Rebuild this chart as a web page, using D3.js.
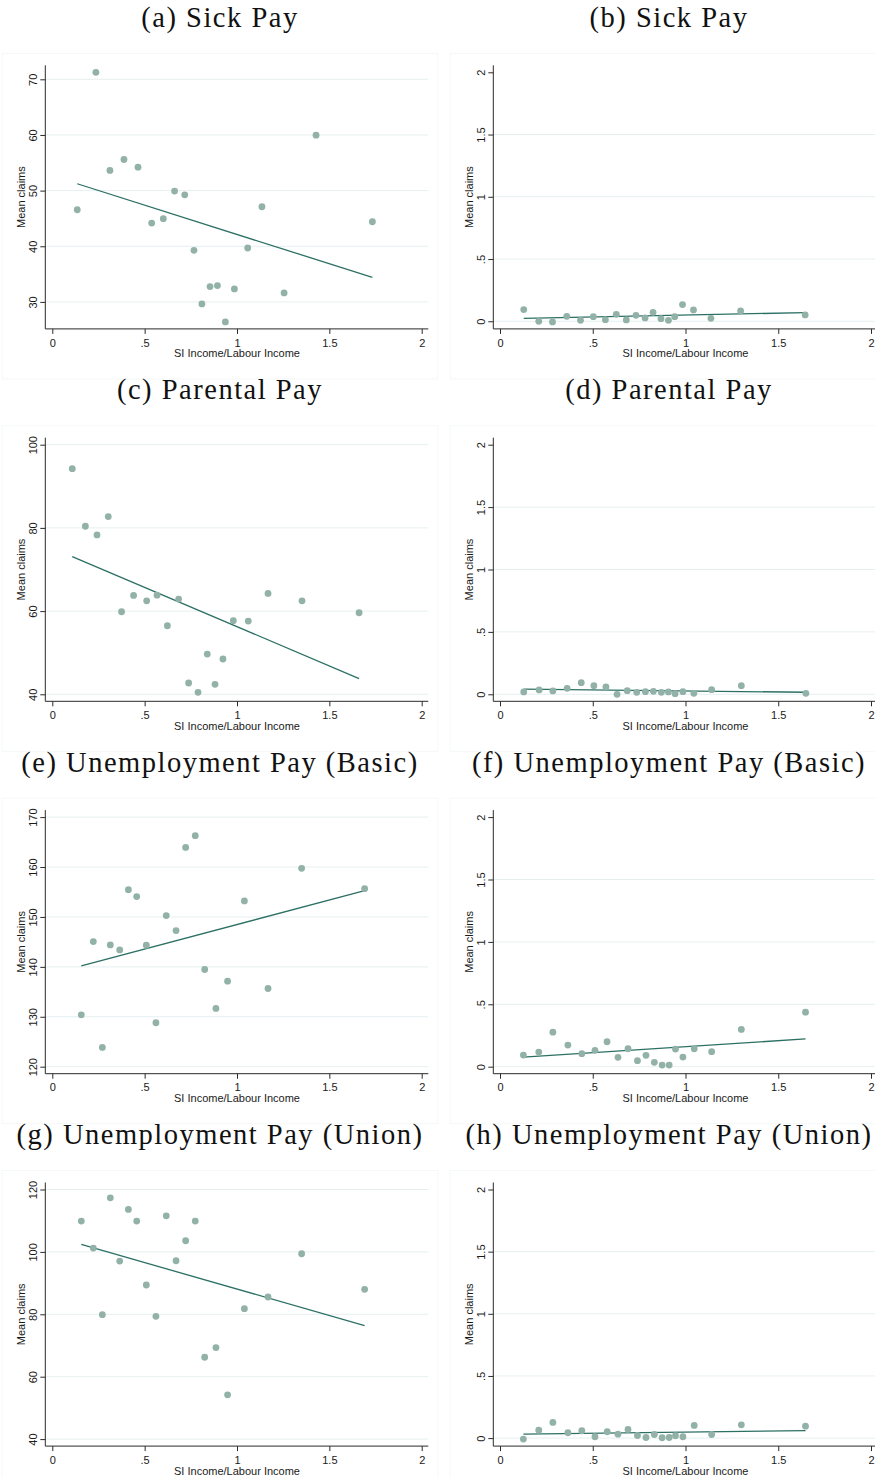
<!DOCTYPE html>
<html>
<head>
<meta charset="utf-8">
<script src="https://cdn.jsdelivr.net/npm/d3@7"></script>
<style>
  html, body { margin: 0; padding: 0; background: #ffffff; }
  svg { display: block; }
</style>
</head>
<body>
<svg id="chart" width="875" height="1478"></svg>
<script>
// ---- Data: mean claims against SI income / labour income ----
const xTicks = [0, 0.5, 1, 1.5, 2];

// (a) Sick Pay
const sickAX = [0.135, 0.236, 0.312, 0.388, 0.464, 0.538, 0.601, 0.662, 0.717, 0.767, 0.810, 0.854, 0.894, 0.937, 0.986, 1.058, 1.135, 1.255, 1.428, 1.733];
const sickAY = [46.56, 71.26, 53.62, 55.59, 54.22, 44.17, 44.95, 49.91, 49.25, 39.27, 29.64, 32.75, 32.93, 26.41, 32.33, 39.69, 47.10, 31.61, 59.96, 44.41];
const sickATicks = [30, 40, 50, 60, 70];

// (b) Sick Pay
const sickBX = [0.128, 0.209, 0.283, 0.360, 0.434, 0.503, 0.568, 0.627, 0.681, 0.733, 0.782, 0.825, 0.868, 0.908, 0.942, 0.984, 1.043, 1.137, 1.297, 1.645];
const sickBY = [0.094, 0.000, -0.005, 0.040, 0.008, 0.037, 0.013, 0.056, 0.011, 0.048, 0.027, 0.072, 0.021, 0.008, 0.037, 0.134, 0.091, 0.024, 0.083, 0.051];

// (c) Parental Pay
const parCX = [0.108, 0.179, 0.242, 0.303, 0.375, 0.440, 0.511, 0.567, 0.623, 0.684, 0.738, 0.789, 0.839, 0.881, 0.924, 0.980, 1.061, 1.168, 1.352, 1.661];
const parCY = [94.24, 80.40, 78.32, 82.72, 59.84, 63.76, 62.48, 63.84, 56.48, 62.88, 42.72, 40.48, 49.68, 42.40, 48.48, 57.68, 57.60, 64.24, 62.48, 59.60];
const parCTicks = [40, 60, 80, 100];

// (d) Parental Pay
const parDX = [0.128, 0.211, 0.285, 0.362, 0.438, 0.506, 0.571, 0.631, 0.686, 0.737, 0.784, 0.827, 0.870, 0.908, 0.944, 0.986, 1.045, 1.141, 1.301, 1.649];
const parDY = [0.019, 0.035, 0.027, 0.048, 0.093, 0.069, 0.059, 0.000, 0.029, 0.016, 0.021, 0.024, 0.016, 0.019, 0.005, 0.021, 0.008, 0.037, 0.069, 0.008];

// (e) Unemployment Pay (Basic)
const basicEX = [0.157, 0.222, 0.271, 0.314, 0.365, 0.412, 0.457, 0.509, 0.561, 0.617, 0.670, 0.722, 0.774, 0.825, 0.886, 0.949, 1.040, 1.168, 1.350, 1.691];
const basicEY = [130.40, 145.07, 123.87, 144.40, 143.40, 155.47, 154.07, 144.33, 128.80, 150.27, 147.27, 163.93, 166.27, 139.47, 131.67, 137.13, 153.20, 135.67, 159.73, 155.67];
const basicETicks = [120, 130, 140, 150, 160, 170];

// (f) Unemployment Pay (Basic)
const basicFX = [0.126, 0.209, 0.285, 0.366, 0.441, 0.512, 0.577, 0.636, 0.690, 0.741, 0.787, 0.832, 0.874, 0.912, 0.946, 0.986, 1.047, 1.141, 1.301, 1.647];
const basicFY = [0.093, 0.117, 0.277, 0.173, 0.104, 0.131, 0.200, 0.075, 0.144, 0.048, 0.091, 0.035, 0.013, 0.013, 0.141, 0.077, 0.144, 0.120, 0.299, 0.437];

// (g) Unemployment Pay (Union)
const unionGX = [0.157, 0.222, 0.271, 0.314, 0.365, 0.412, 0.457, 0.509, 0.561, 0.617, 0.670, 0.722, 0.774, 0.825, 0.886, 0.949, 1.040, 1.168, 1.350, 1.691];
const unionGY = [109.87, 101.23, 79.89, 117.33, 97.07, 113.60, 109.87, 89.39, 79.36, 111.57, 97.17, 103.57, 109.87, 66.24, 69.33, 54.19, 81.81, 85.55, 99.41, 88.00];
const unionGTicks = [40, 60, 80, 100, 120];

// (h) Unemployment Pay (Union)
const unionHX = [0.126, 0.209, 0.285, 0.366, 0.441, 0.512, 0.578, 0.636, 0.690, 0.741, 0.787, 0.832, 0.874, 0.912, 0.946, 0.986, 1.047, 1.141, 1.301, 1.647];
const unionHY = [-0.008, 0.064, 0.126, 0.043, 0.059, 0.011, 0.051, 0.032, 0.070, 0.021, 0.005, 0.029, 0.003, 0.005, 0.019, 0.011, 0.102, 0.029, 0.107, 0.096];

const rightTicks = [0, 0.5, 1, 1.5, 2];

const panelTitles = [
  "(a) Sick Pay", "(b) Sick Pay",
  "(c) Parental Pay", "(d) Parental Pay",
  "(e) Unemployment Pay (Basic)", "(f) Unemployment Pay (Basic)",
  "(g) Unemployment Pay (Union)", "(h) Unemployment Pay (Union)"
];

const panels = [
  { x: sickAX, y: sickAY, ticks: sickATicks },
  { x: sickBX, y: sickBY, ticks: rightTicks, noTopGrid: true },
  { x: parCX, y: parCY, ticks: parCTicks },
  { x: parDX, y: parDY, ticks: rightTicks, noTopGrid: true },
  { x: basicEX, y: basicEY, ticks: basicETicks },
  { x: basicFX, y: basicFY, ticks: rightTicks, noTopGrid: true },
  { x: unionGX, y: unionGY, ticks: unionGTicks },
  { x: unionHX, y: unionHY, ticks: rightTicks, noTopGrid: true }
];

// ---- Layout ----
const svg = d3.select("#chart");
const rowStep = 372.4;
const innerTop0 = 72.3, innerH = 249.6, pad = 7;
const cols = [
  { axisX: 45.3, x0: 52.3, x1: 421.7, right: 428.3, bgX: 2, bgW: 436, titleX: 220 },
  { axisX: 493.3, x0: 500, x1: 871, right: 878, bgX: 450, bgW: 430, titleX: 669 }
];

const markerColor = "#92b2a8";
const lineColor = "#2c7064";
const gridColor = "#e6eff0";
const axisColor = "#2a2a2a";

const fmt = d => d === 0 ? "0" : String(d).replace(/^0\./, ".").replace(/^-0\./, "-.");

function olsFit(xs, ys) {
  const mx = d3.mean(xs), my = d3.mean(ys);
  let sxy = 0, sxx = 0;
  xs.forEach((v, i) => { sxy += (v - mx) * (ys[i] - my); sxx += (v - mx) * (v - mx); });
  const b = sxy / sxx;
  return x => my + b * (x - mx);
}

panels.forEach((p, i) => {
  const col = cols[i % 2];
  const row = Math.floor(i / 2);
  const top = innerTop0 + row * rowStep;
  const bottom = top + innerH;
  const axisY = bottom + pad;

  const g = svg.append("g");

  // graph region (very faint frame)
  g.append("rect")
    .attr("x", col.bgX).attr("y", top - 19)
    .attr("width", col.bgW).attr("height", innerH + 76)
    .attr("fill", "#ffffff").attr("stroke", "#f5f8f8").attr("stroke-width", 1);

  const xScale = d3.scaleLinear().domain([0, 2]).range([col.x0, col.x1]);
  const yDom = d3.extent(p.y.concat(p.ticks));
  const yScale = d3.scaleLinear().domain(yDom).range([bottom, top]);

  // gridlines
  const gridTicks = p.noTopGrid ? p.ticks.slice(0, -1) : p.ticks;
  g.append("g").selectAll("line").data(gridTicks).join("line")
    .attr("x1", col.axisX).attr("x2", col.right)
    .attr("y1", d => yScale(d)).attr("y2", d => yScale(d))
    .attr("stroke", gridColor).attr("stroke-width", 1);

  // y axis
  const yAxis = d3.axisLeft(yScale).tickValues(p.ticks).tickFormat(fmt).tickSize(5).tickSizeOuter(0);
  const ya = g.append("g").attr("transform", `translate(${col.axisX},0)`).call(yAxis);
  ya.select(".domain").attr("d", `M0,${top - pad}V${axisY}`).attr("stroke", axisColor);
  ya.selectAll(".tick line").attr("stroke", axisColor);
  ya.selectAll(".tick text")
    .attr("transform", "rotate(-90)")
    .attr("x", 0).attr("y", 0).attr("dy", "-8.5px")
    .attr("text-anchor", "middle")
    .attr("font-family", "'Liberation Sans', Arial, sans-serif")
    .attr("font-size", 11).attr("fill", "#1a1a1a");

  // x axis
  const xAxis = d3.axisBottom(xScale).tickValues(xTicks).tickFormat(fmt).tickSize(5).tickSizeOuter(0);
  const xa = g.append("g").attr("transform", `translate(0,${axisY})`).call(xAxis);
  xa.select(".domain").attr("d", `M${col.axisX},0H${col.right}`).attr("stroke", axisColor);
  xa.selectAll(".tick line").attr("stroke", axisColor);
  xa.selectAll(".tick text")
    .attr("y", 17.7).attr("dy", 0)
    .attr("font-family", "'Liberation Sans', Arial, sans-serif")
    .attr("font-size", 11).attr("fill", "#1a1a1a");

  // axis titles
  g.append("text")
    .attr("x", (col.x0 + col.x1) / 2).attr("y", axisY + 28.5)
    .attr("text-anchor", "middle")
    .attr("font-family", "'Liberation Sans', Arial, sans-serif")
    .attr("font-size", 11).attr("fill", "#1a1a1a")
    .text("SI Income/Labour Income");
  g.append("text")
    .attr("transform", `translate(${col.axisX - 20},${(top + bottom) / 2}) rotate(-90)`)
    .attr("text-anchor", "middle")
    .attr("font-family", "'Liberation Sans', Arial, sans-serif")
    .attr("font-size", 11).attr("fill", "#1a1a1a")
    .text("Mean claims");

  // fitted line
  const fit = olsFit(p.x, p.y);
  const xr = d3.extent(p.x);
  g.append("path")
    .attr("d", d3.line().x(d => xScale(d)).y(d => yScale(fit(d)))(xr))
    .attr("fill", "none").attr("stroke", lineColor).attr("stroke-width", 1.3);

  // points
  g.append("g").selectAll("circle").data(p.x.map((v, k) => [v, p.y[k]])).join("circle")
    .attr("cx", d => xScale(d[0])).attr("cy", d => yScale(d[1]))
    .attr("r", 3.4).attr("fill", markerColor);

  // panel title
  svg.append("text")
    .attr("x", col.titleX).attr("y", 27 + row * rowStep)
    .attr("text-anchor", "middle")
    .attr("font-family", "'Liberation Serif', 'Times New Roman', serif")
    .attr("font-size", 28.5).attr("letter-spacing", "1.5px").attr("fill", "#111")
    .text(panelTitles[i]);
});
</script>
</body>
</html>
